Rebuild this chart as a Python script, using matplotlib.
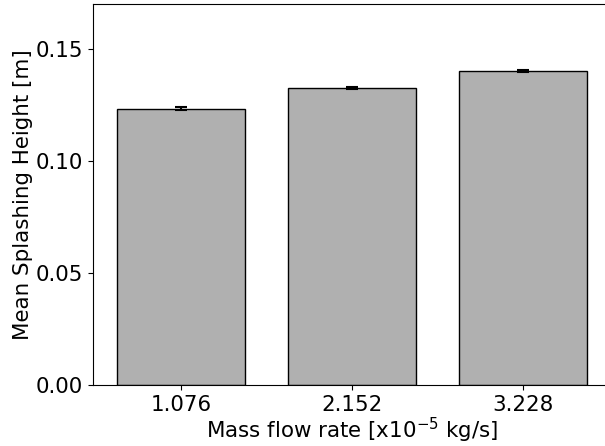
import matplotlib
matplotlib.use("Agg")
import matplotlib.pyplot as plt
import numpy as np

flow_labels = ["1.076", "2.152", "3.228"]
mean_height = [0.1233, 0.1326, 0.1402]
height_err = [0.0006, 0.0005, 0.0005]

fig = plt.figure(figsize=(6.05, 4.46), dpi=100)
ax = fig.add_axes([93 / 605, 61 / 446, 518 / 605, 381 / 446])

x = np.arange(len(flow_labels))
ax.bar(x, mean_height, width=0.75, color="#b0b0b0", edgecolor="black",
       linewidth=1.0, yerr=height_err, capsize=4,
       error_kw=dict(ecolor="black", elinewidth=1.5, capthick=1.5))

ax.set_xticks(x)
ax.set_xticklabels(flow_labels)
ax.set_ylim(0, 0.17)
ax.set_yticks([0.0, 0.05, 0.10, 0.15])
ax.set_yticklabels(["0.00", "0.05", "0.10", "0.15"])
ax.tick_params(labelsize=15.4)
ax.set_xlabel(r"Mass flow rate [x10$^{-5}$ kg/s]", fontsize=15.4, labelpad=1)
ax.set_ylabel("Mean Splashing Height [m]", fontsize=15.4, labelpad=2)

fig.savefig("out.png", dpi=100)
